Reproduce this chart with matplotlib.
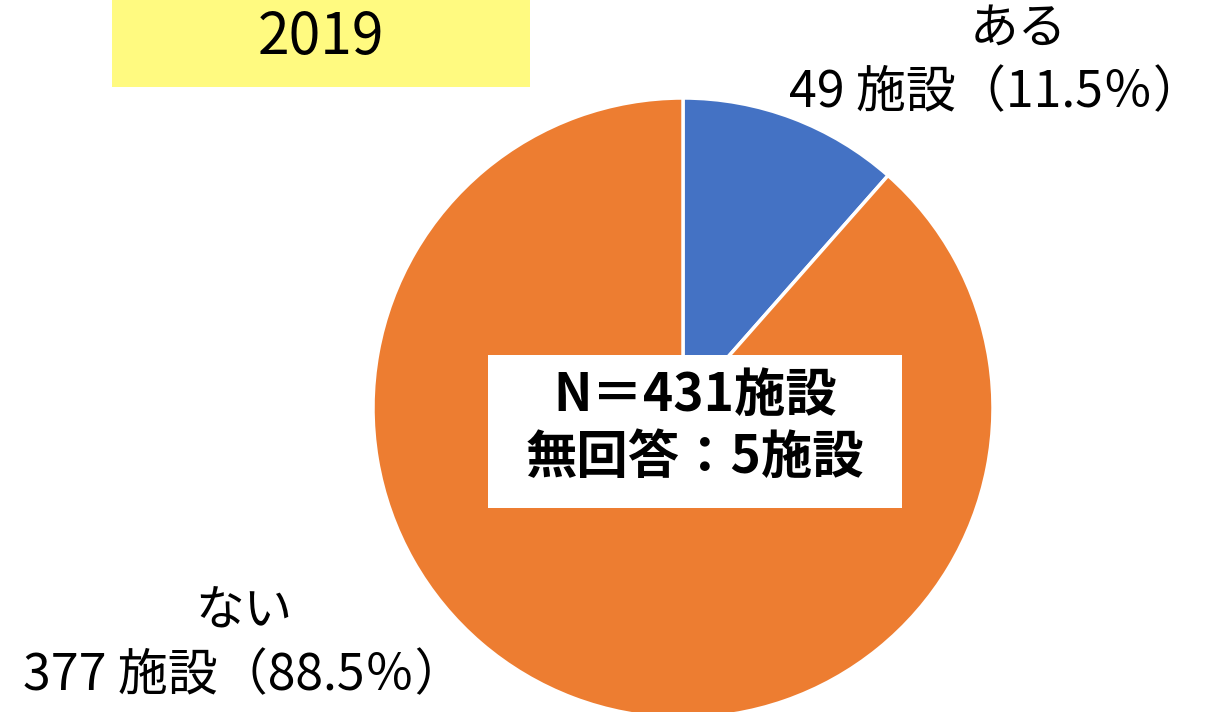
import matplotlib.pyplot as plt
from matplotlib.patches import Rectangle

plt.rcParams['font.family'] = ['Noto Sans CJK JP', 'DejaVu Sans']

year = '2019'
categories = ['ある', 'ない']
counts = [49, 377]
percents = [11.5, 88.5]
colors = ['#4472C4', '#ED7D31']
total_n = 431
no_answer = 5

fig = plt.figure(figsize=(12.05, 7.12), dpi=100)
ax = fig.add_axes([0, 0, 1, 1])

ax.pie(counts, colors=colors, startangle=90, counterclock=False,
       center=(683, 304), radius=310, frame=True,
       wedgeprops=dict(edgecolor='white', linewidth=2.5))
ax.set_xlim(0, 1205)
ax.set_ylim(0, 712)
ax.set_aspect('equal')
ax.axis('off')

# year box
ax.add_patch(Rectangle((112, 625), 418, 90, facecolor='#FFFA80', edgecolor='none'))
ax.text(321, 674, year, ha='center', va='center', fontsize=41)

# center box
ax.add_patch(Rectangle((488, 204), 414, 153, facecolor='white', edgecolor='none', zorder=3))
ax.text(695, 317, 'N＝%d施設' % total_n, ha='center', va='center',
        fontsize=37, fontweight='bold', zorder=4)
ax.text(695, 254, '無回答：%d施設' % no_answer, ha='center', va='center',
        fontsize=37, fontweight='bold', zorder=4)

# slice labels
ax.text(1018, 683, categories[0], ha='center', va='center', fontsize=35)
ax.text(1203, 619, '%d 施設（%.1f％）' % (counts[0], percents[0]),
        ha='right', va='center', fontsize=36)
ax.text(244, 100, categories[1], ha='center', va='center', fontsize=35)
ax.text(244, 36, '%d 施設（%.1f％）' % (counts[1], percents[1]),
        ha='center', va='center', fontsize=36)

fig.savefig('out.png', dpi=100)
